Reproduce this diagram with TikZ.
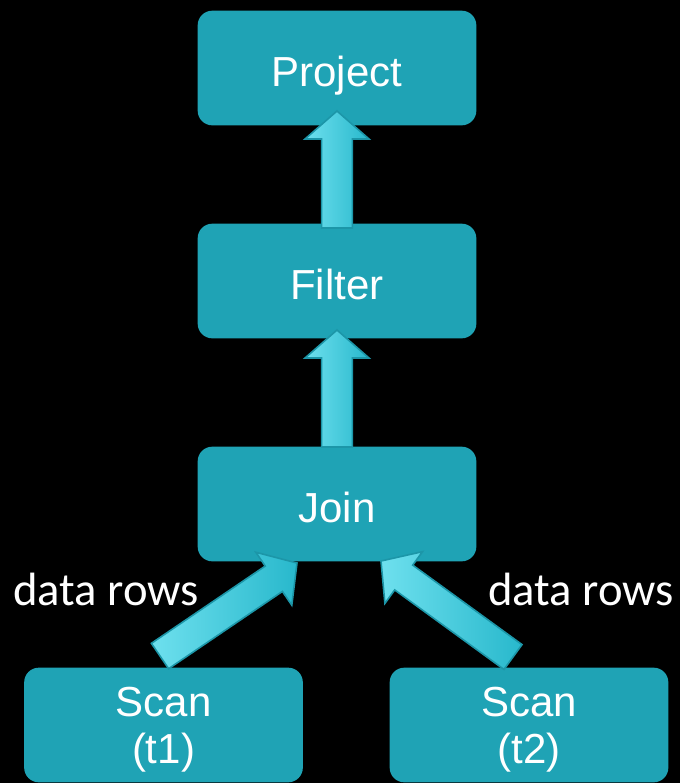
\documentclass[tikz,border=0pt]{standalone}
\usepackage{fontspec}
\setmainfont{Liberation Sans}
\newfontfamily\labelfont{Carlito}
\usetikzlibrary{calc}
\definecolor{boxcol}{RGB}{31,163,181}
\definecolor{arrlight}{RGB}{110,224,238}
\definecolor{arrdark}{RGB}{40,184,204}
\definecolor{arredge}{RGB}{28,150,168}
\tikzset{
  box/.style={draw=none, fill=boxcol, rounded corners=11pt, minimum width=209pt, minimum height=86pt,
    inner sep=0pt, text=white, font=\fontsize{31.5}{35}\selectfont, align=center},
  onebox/.style={box, text height=27pt, text depth=0pt},
  twobox/.style={box, text depth=-2.4pt},
  lbl/.style={text=white, font=\labelfont\fontsize{35}{40}\selectfont, inner sep=0pt},
  blk/.style={left color=arrlight, right color=arrdark, draw=arredge, line width=1.2pt, line join=miter}
}
\newcommand\blkarrow[2]{%
  \shade[blk] let \p1=($(#2)-(#1)$), \n1={atan2(\y1,\x1)}, \n2={veclen(\x1,\y1)} in
    ($(#1)+(\n1+90:11.5pt)$) --
    ($(#1)+(\n1:{\n2*1pt-21pt})+(\n1+90:11.5pt)$) --
    ($(#1)+(\n1:{\n2*1pt-21pt})+(\n1+90:24pt)$) --
    (#2) --
    ($(#1)+(\n1:{\n2*1pt-21pt})+(\n1-90:24pt)$) --
    ($(#1)+(\n1:{\n2*1pt-21pt})+(\n1-90:11.5pt)$) --
    ($(#1)+(\n1-90:11.5pt)$) -- cycle;}
\begin{document}
\begin{tikzpicture}[x=0.75pt,y=-0.75pt]
\fill[black] (0,0) rectangle (680,783);
\useasboundingbox (0,0) rectangle (680,783);
\node[onebox] (project) at (337,68) {Project};
\node[onebox] (filter) at (337,281) {Filter};
\node[onebox] (join) at (337,504) {Join};
\node[twobox] (scan1) at (163.5,725) {Scan\\(t1)};
\node[twobox] (scan2) at (529,725) {Scan\\(t2)};
\node[lbl] (l1) at (106,589) {data rows};
\node[lbl] (l2) at (581,589) {data rows};
\coordinate (a1s) at (337,228);
\coordinate (a1e) at (337,111);
\coordinate (a2s) at (337,447);
\coordinate (a2e) at (337,330);
\coordinate (a3s) at (160,656);
\coordinate (a3e) at (297,563);
\coordinate (a4s) at (513,657);
\coordinate (a4e) at (381,561);
\blkarrow{a1s}{a1e}
\blkarrow{a2s}{a2e}
\blkarrow{a3s}{a3e}
\blkarrow{a4s}{a4e}
\end{tikzpicture}
\end{document}
